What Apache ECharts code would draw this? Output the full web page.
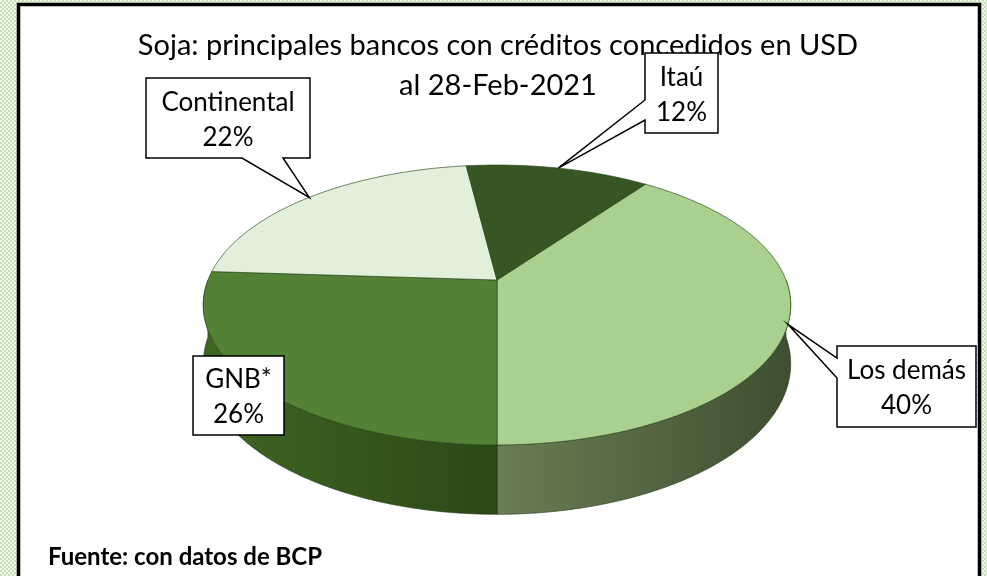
<!DOCTYPE html>
<html>
<head>
<meta charset="utf-8">
<script src="https://cdn.jsdelivr.net/npm/echarts@6/dist/echarts.min.js"></script>
<style>
  html, body {
    margin: 0;
    padding: 0;
    width: 987px;
    height: 576px;
    overflow: hidden;
    background-color: #e4f0da;
    background-image: repeating-conic-gradient(#c6dfb3 0% 25%, #f2f8ec 0% 50%);
    background-size: 4px 4px;
  }
  #chart {
    width: 987px;
    height: 576px;
  }
</style>
</head>
<body>
<div id="chart"></div>
<script>
// datos
const bancos = ["Los demás", "GNB*", "Continental", "Itaú"];
const porcentajes = [40, 26, 22, 12];

// colores de cada porción (cara superior / lateral)
const coloresTop = ["#a9d08e", "#538135", "#e2efda", "#375623"];
const coloresLado = [
  ["#6a7d54", "#3e4f31"],
  ["#3f6523", "#2c4916"],
  ["#c8d8bd", "#a9b99e"],
  ["#2c461b", "#203512"],
];

// posicion de los recuadros: x, y, ancho, alto, lado del puntero, base del puntero
const cajas = [
  [837, 346, 139, 81, "left", 12, 32],
  [193, 356, 91, 79, null, 0, 0],
  [146, 78, 164, 80, "bottom", 96, 137],
  [645, 53, 73, 80, "left", 47, 67],
];

// geometria del pastel 3D
const CX = 497, CY = 280;
const A = 289, B = 135.5, P = 0.1786, D = 57;
const ANG0 = 54;

const total = porcentajes.reduce((a, b) => a + b, 0);
let acc = ANG0;
const rangos = porcentajes.map((v) => {
  const a0 = acc;
  acc -= (v / total) * 360;
  return [a0, acc];
});

function proj(deg, d) {
  const t = (deg * Math.PI) / 180;
  const u = Math.cos(t), v = Math.sin(t);
  const s = 1 / (1 + P * v);
  return [CX + A * u * s, CY - B * v * s + D * s * d];
}

function arco(a0, a1, d) {
  const pts = [];
  const n = Math.max(2, Math.ceil(Math.abs(a0 - a1) / 0.5));
  for (let k = 0; k <= n; k++) {
    pts.push(proj(a0 + ((a1 - a0) * k) / n, d));
  }
  return pts;
}

// tramos frontales (visibles) de una porcion
function tramosFrente(a0, a1) {
  const tramos = [];
  let actual = null;
  const n = Math.ceil(Math.abs(a0 - a1) / 0.25);
  for (let k = 0; k <= n; k++) {
    const a = a0 + ((a1 - a0) * k) / n;
    const frente = Math.sin((a * Math.PI) / 180) <= 0.0001;
    if (frente) {
      if (!actual) actual = [a, a];
      actual[1] = a;
    } else if (actual) {
      tramos.push(actual);
      actual = null;
    }
  }
  if (actual) tramos.push(actual);
  return tramos;
}

const chart = echarts.init(document.getElementById("chart"));

const renderPastel = (params, api) => {
  const i = params.dataIndex;
  const [a0, a1] = rangos[i];
  const children = [];

  tramosFrente(a0, a1).forEach((tr) => {
    const pts = arco(tr[0], tr[1], 0).concat(arco(tr[1], tr[0], 1));
    children.push({
      type: "polygon",
      shape: { points: pts },
      style: {
        fill: {
          type: "linear",
          x: 0, y: 0, x2: 1, y2: 0,
          colorStops: [
            { offset: 0, color: coloresLado[i][0] },
            { offset: 1, color: coloresLado[i][1] },
          ],
        },
        stroke: "rgba(30,50,20,0.7)",
        lineWidth: 0.8,
      },
    });
  });

  const top = [[CX, CY]].concat(arco(a0, a1, 0));
  children.push({
    type: "polygon",
    shape: { points: top },
    style: {
      fill: coloresTop[i],
      stroke: "rgba(40,70,25,0.75)",
      lineWidth: 0.9,
    },
  });

  return { type: "group", children: children };
};

const renderEtiqueta = (params, api) => {
  const i = params.dataIndex;
  const [a0, a1] = rangos[i];
  const punta = proj((a0 + a1) / 2, 0);
  const [x, y, w, h, lado, b0, b1] = cajas[i];
  let pts;
  if (lado === "left") {
    pts = [[x, y], [x + w, y], [x + w, y + h], [x, y + h], [x, y + b1], punta, [x, y + b0]];
  } else if (lado === "bottom") {
    pts = [[x, y], [x + w, y], [x + w, y + h], [x + b1, y + h], punta, [x + b0, y + h], [x, y + h]];
  } else {
    pts = [[x, y], [x + w, y], [x + w, y + h], [x, y + h]];
  }
  return {
    type: "group",
    children: [
      {
        type: "polygon",
        shape: { points: pts },
        style: { fill: "#fff", stroke: "#000", lineWidth: 1.5 },
        z2: 10,
      },
      {
        type: "text",
        x: x + w / 2,
        y: y + h / 2 + 2,
        style: {
          text: bancos[i] + "\n" + api.value(0) + "%",
          fill: "#000",
          font: "26px Lato",
          lineHeight: 35,
          align: "center",
          verticalAlign: "middle",
        },
        z2: 11,
      },
    ],
  };
};

const datos = bancos.map((b, i) => ({ name: b, value: porcentajes[i] }));

const option = {
  backgroundColor: "transparent",
  animation: false,
  graphic: [
    {
      type: "rect",
      shape: { x: 18.5, y: 4.5, width: 961, height: 640 },
      style: { fill: "#fff", stroke: "#000", lineWidth: 3.5 },
      z: -10,
    },
    {
      type: "text",
      x: 498,
      y: 46,
      style: {
        text: "Soja: principales bancos con créditos concedidos en USD",
        font: "29px Lato",
        fill: "#000",
        align: "center",
        verticalAlign: "middle",
      },
      z: 1,
    },
    {
      type: "text",
      x: 498,
      y: 86,
      style: {
        text: "al 28-Feb-2021",
        font: "29px Lato",
        fill: "#000",
        align: "center",
        verticalAlign: "middle",
      },
      z: 1,
    },
    {
      type: "text",
      x: 48,
      y: 557,
      style: {
        text: "Fuente: con datos de BCP",
        font: "bold 24px Lato",
        fill: "#000",
        align: "left",
        verticalAlign: "middle",
      },
      z: 1,
    },
  ],
  series: [
    {
      type: "custom",
      coordinateSystem: "none",
      renderItem: renderPastel,
      data: datos,
      z: 2,
    },
    {
      type: "custom",
      coordinateSystem: "none",
      renderItem: renderEtiqueta,
      data: datos,
      z: 5,
    },
  ],
};

chart.setOption(option);
</script>
</body>
</html>
